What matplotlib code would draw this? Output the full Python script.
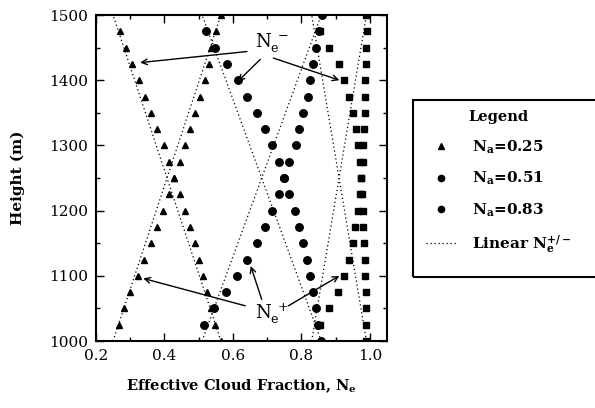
import numpy as np
import matplotlib
matplotlib.use('Agg')
import matplotlib.pyplot as plt
from matplotlib.lines import Line2D
from matplotlib.patches import Rectangle
from matplotlib.ticker import MultipleLocator

plt.rcParams['font.family'] = 'DejaVu Serif'
plt.rcParams['mathtext.fontset'] = 'custom'
plt.rcParams['mathtext.rm'] = 'DejaVu Serif:bold'
plt.rcParams['mathtext.default'] = 'rm'

heights = [1000, 1025, 1050, 1075, 1100, 1125, 1150, 1175, 1200, 1225, 1250,
           1275, 1300, 1325, 1350, 1375, 1400, 1425, 1450, 1475, 1500]
nan = np.nan

# N_a = 0.25
plus_025 = [nan, 0.267, 0.283, 0.300, 0.322, 0.339, 0.360, 0.378, 0.396, 0.413, 0.429,
            0.446, 0.461, 0.475, 0.489, 0.504, 0.517, 0.530, 0.537, 0.550, 0.565]
minus_025 = [0.564, 0.549, 0.537, 0.525, 0.514, 0.502, 0.488, 0.475, 0.460, 0.446, 0.429,
             0.414, 0.398, 0.379, 0.361, 0.342, 0.326, 0.304, 0.288, 0.270, nan]
# N_a = 0.51
plus_051 = [nan, 0.516, 0.545, 0.579, 0.612, 0.642, 0.669, 0.693, 0.715, 0.734, 0.750,
            0.765, 0.783, 0.794, 0.806, 0.818, 0.826, 0.835, 0.844, 0.850, 0.859]
minus_051 = [0.856, 0.848, 0.842, 0.833, 0.826, 0.816, 0.806, 0.794, 0.781, 0.765, 0.750,
             0.734, 0.715, 0.693, 0.669, 0.642, 0.614, 0.582, 0.548, 0.521, nan]
# N_a = 0.83
plus_083 = [nan, 0.855, 0.882, 0.906, 0.923, 0.939, 0.951, 0.958, 0.964, 0.970, 0.975,
            0.979, 0.981, 0.983, 0.985, 0.987, 0.987, 0.989, 0.989, 0.991, 0.990]
minus_083 = [0.990, 0.989, 0.989, 0.988, 0.987, 0.985, 0.984, 0.981, 0.979, 0.977, 0.975,
             0.970, 0.965, 0.959, 0.951, 0.939, 0.925, 0.909, 0.882, 0.855, nan]

# linear N_e+/- : value at cloud base and cloud top
lin_heights = [1000, 1500]
lin_base = [0.25, 0.51, 0.83]
lin_top = [0.565, 0.858, 0.990]

fig = plt.figure(figsize=(5.95, 4.08), dpi=100)
ax = fig.add_axes([0.1613, 0.1642, 0.4891, 0.799])

dots = (0, (1, 2.2))
for lo, hi in zip(lin_base, lin_top):
    ax.plot([lo, hi], lin_heights, color='k', lw=0.9, ls=dots)
    ax.plot([hi, lo], lin_heights, color='k', lw=0.9, ls=dots)

series = [(plus_025, minus_025, '^', 4.8),
          (plus_051, minus_051, 'o', 5.4),
          (plus_083, minus_083, 's', 4.4)]
for plus, minus, mk, ms in series:
    ax.plot(plus, heights, ls='none', marker=mk, ms=ms, color='k')
    ax.plot(minus, heights, ls='none', marker=mk, ms=ms, color='k')

ax.set_xlim(0.2, 1.05)
ax.set_ylim(1000, 1500)
ax.xaxis.set_major_locator(MultipleLocator(0.2))
ax.xaxis.set_minor_locator(MultipleLocator(0.1))
ax.yaxis.set_major_locator(MultipleLocator(100))
ax.yaxis.set_minor_locator(MultipleLocator(50))
ax.xaxis.set_major_formatter(matplotlib.ticker.FormatStrFormatter('%.1f'))
ax.tick_params(which='both', direction='in', top=True, right=True, labelsize=11, pad=6)
ax.tick_params(which='major', length=6, width=1)
ax.tick_params(which='minor', length=3, width=1)
for sp in ax.spines.values():
    sp.set_linewidth(1.5)

ax.set_xlabel(r'Effective Cloud Fraction, $\mathregular{N_e}$', fontsize=10.5,
              fontweight='bold', labelpad=10)
ax.set_ylabel('Height (m)', fontsize=11, fontweight='bold', labelpad=17)

# N_e- callouts
ax.text(0.665, 1458, r'$\mathregular{N_e^{\ -}}$', fontsize=13, ha='left', va='center')
arrow = dict(arrowstyle='->', color='k', lw=1.0, shrinkA=0, shrinkB=0)
ax.annotate('', xy=(0.329, 1427), xytext=(0.641, 1444), arrowprops=arrow)
ax.annotate('', xy=(0.614, 1398), xytext=(0.68, 1432), arrowprops=arrow)
ax.annotate('', xy=(0.911, 1400), xytext=(0.718, 1434), arrowprops=arrow)

# N_e+ callouts
ax.text(0.665, 1042, r'$\mathregular{N_e^{\ +}}$', fontsize=13, ha='left', va='center')
ax.annotate('', xy=(0.338, 1096), xytext=(0.636, 1054), arrowprops=arrow)
ax.annotate('', xy=(0.652, 1115), xytext=(0.684, 1064), arrowprops=arrow)
ax.annotate('', xy=(0.911, 1100), xytext=(0.762, 1054), arrowprops=arrow)

handles = [Line2D([], [], ls='none', marker='^', ms=4, color='k'),
           Line2D([], [], ls='none', marker='o', ms=4.5, color='k'),
           Line2D([], [], ls='none', marker='o', ms=4.5, color='k'),
           Line2D([], [], color='k', lw=0.9, ls=dots)]
labels = [r'$\mathregular{N_a}$=0.25', r'$\mathregular{N_a}$=0.51',
          r'$\mathregular{N_a}$=0.83', r'Linear $\mathregular{N_e^{+/-}}$']
leg = fig.legend(handles, labels, loc='upper left', bbox_to_anchor=(0.700, 0.752),
                 title='Legend', title_fontproperties={'weight': 'bold', 'size': 10.5},
                 prop={'weight': 'bold', 'size': 11}, frameon=False,
                 labelspacing=0.92, handlelength=2.0, handletextpad=1.0,
                 borderpad=0.6, borderaxespad=0)

# legend box, open past the right edge of the figure
fig.patches.append(Rectangle((0.694, 0.321), 0.33, 0.434, transform=fig.transFigure,
                             fill=False, edgecolor='k', lw=1.5, figure=fig))

fig.savefig('out.png', dpi=100)
